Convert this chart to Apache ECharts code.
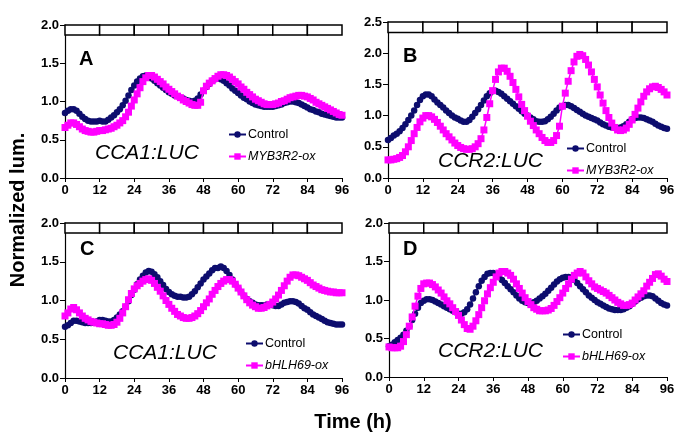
<!DOCTYPE html>
<html>
<head>
<meta charset="utf-8">
<script src="https://cdn.jsdelivr.net/npm/echarts@6/dist/echarts.min.js"></script>
<style>
html,body{margin:0;padding:0;background:#fff;}
#chart{width:685px;height:441px;}
</style>
</head>
<body>
<div id="chart"></div>
<script>
// Sampling times (h)
const hours = [];
for (let h = 0; h <= 96; h++) hours.push(h);
const xTicks = [0, 12, 24, 36, 48, 60, 72, 84, 96];
const lightBoxes = [[0,12],[12,24],[24,36],[36,48],[48,60],[60,72],[72,84],[84,96]];

// Panel A: CCA1:LUC, Control vs MYB3R2-ox
const ctrlA = [
0.85,0.88,0.90,0.90,0.88,0.84,0.80,0.77,0.75,0.74,0.74,0.74,
0.75,0.74,0.74,0.76,0.79,0.82,0.86,0.90,0.95,1.01,1.08,1.15,
1.21,1.26,1.30,1.33,1.34,1.33,1.30,1.27,1.24,1.21,1.18,1.15,
1.12,1.10,1.08,1.07,1.05,1.04,1.02,1.01,1.00,1.01,1.04,1.09,
1.14,1.19,1.23,1.27,1.29,1.30,1.29,1.27,1.24,1.21,1.17,1.14,
1.11,1.08,1.05,1.03,1.00,0.98,0.96,0.95,0.94,0.93,0.93,0.93,
0.93,0.94,0.95,0.96,0.98,0.99,1.00,1.00,0.99,0.98,0.96,0.94,
0.92,0.90,0.89,0.87,0.86,0.84,0.83,0.82,0.81,0.80,0.79,0.79,
0.79];
const oxA = [
0.66,0.69,0.72,0.72,0.70,0.67,0.64,0.62,0.61,0.60,0.60,0.61,
0.62,0.62,0.63,0.64,0.65,0.67,0.69,0.72,0.75,0.80,0.86,0.94,
1.02,1.10,1.18,1.26,1.31,1.34,1.34,1.32,1.29,1.26,1.23,1.19,
1.16,1.13,1.10,1.07,1.05,1.02,1.00,0.98,0.96,0.95,0.95,0.99,
1.14,1.20,1.24,1.27,1.30,1.33,1.35,1.35,1.34,1.32,1.29,1.26,
1.23,1.19,1.16,1.12,1.09,1.06,1.03,1.01,0.99,0.97,0.96,0.96,
0.96,0.97,0.98,1.00,1.01,1.03,1.05,1.06,1.07,1.08,1.08,1.07,
1.06,1.04,1.02,0.99,0.97,0.95,0.93,0.91,0.89,0.87,0.85,0.83,
0.82];

// Panel B: CCR2:LUC, Control vs MYB3R2-ox
const ctrlB = [
0.61,0.64,0.68,0.71,0.75,0.80,0.86,0.93,1.00,1.08,1.17,1.25,
1.31,1.34,1.34,1.31,1.26,1.21,1.17,1.13,1.08,1.04,1.00,0.97,
0.95,0.92,0.90,0.90,0.93,0.98,1.04,1.10,1.17,1.24,1.31,1.36,
1.39,1.40,1.38,1.35,1.31,1.27,1.23,1.19,1.15,1.11,1.07,1.03,
1.00,0.97,0.94,0.91,0.90,0.90,0.91,0.94,0.98,1.03,1.08,1.13,
1.15,1.17,1.17,1.15,1.12,1.09,1.06,1.03,1.00,0.98,0.96,0.94,
0.92,0.89,0.86,0.84,0.82,0.81,0.80,0.80,0.81,0.83,0.86,0.90,
0.94,0.96,0.97,0.97,0.96,0.94,0.92,0.90,0.87,0.84,0.82,0.80,
0.79];
const oxB = [
0.29,0.29,0.30,0.31,0.33,0.36,0.42,0.50,0.60,0.71,0.81,0.90,
0.96,1.00,1.00,0.98,0.94,0.89,0.83,0.77,0.71,0.66,0.61,0.56,
0.52,0.49,0.47,0.46,0.46,0.47,0.50,0.55,0.63,0.77,0.97,1.19,
1.40,1.58,1.70,1.76,1.76,1.71,1.63,1.53,1.42,1.30,1.18,1.08,
0.99,0.91,0.84,0.77,0.71,0.65,0.60,0.57,0.57,0.60,0.68,0.83,
1.15,1.36,1.55,1.72,1.86,1.95,1.98,1.96,1.90,1.81,1.70,1.58,
1.46,1.33,1.20,1.08,0.97,0.88,0.81,0.77,0.76,0.77,0.80,0.86,
0.93,1.02,1.12,1.22,1.31,1.38,1.43,1.46,1.47,1.45,1.42,1.38,
1.33];

// Panel C: CCA1:LUC, Control vs bHLH69-ox
const ctrlC = [
0.66,0.68,0.71,0.74,0.74,0.73,0.72,0.71,0.71,0.71,0.72,0.73,
0.75,0.75,0.74,0.73,0.73,0.75,0.78,0.82,0.86,0.92,0.99,1.07,
1.14,1.21,1.27,1.32,1.36,1.38,1.37,1.34,1.30,1.25,1.20,1.15,
1.11,1.08,1.06,1.05,1.05,1.04,1.04,1.05,1.08,1.12,1.17,1.22,
1.27,1.31,1.35,1.39,1.42,1.42,1.44,1.42,1.38,1.33,1.27,1.21,
1.16,1.11,1.06,1.02,0.99,0.97,0.95,0.94,0.94,0.94,0.95,0.95,
0.94,0.93,0.93,0.95,0.97,0.98,0.99,0.99,0.98,0.96,0.93,0.90,
0.88,0.85,0.82,0.80,0.78,0.76,0.74,0.72,0.71,0.70,0.69,0.69,
0.69];
const oxC = [
0.80,0.84,0.89,0.91,0.88,0.84,0.80,0.77,0.75,0.73,0.72,0.71,
0.70,0.70,0.69,0.68,0.68,0.69,0.72,0.77,0.84,0.92,1.01,1.09,
1.15,1.19,1.22,1.25,1.27,1.28,1.26,1.22,1.17,1.12,1.06,1.00,
0.95,0.90,0.86,0.82,0.80,0.78,0.77,0.77,0.78,0.80,0.83,0.87,
0.92,0.97,1.02,1.08,1.13,1.18,1.22,1.25,1.27,1.27,1.25,1.21,
1.16,1.11,1.06,1.01,0.97,0.94,0.92,0.90,0.90,0.91,0.93,0.95,
0.98,1.02,1.07,1.13,1.19,1.25,1.30,1.33,1.33,1.32,1.30,1.28,
1.26,1.23,1.20,1.18,1.16,1.14,1.13,1.12,1.11,1.11,1.10,1.10,
1.10];

// Panel D: CCR2:LUC, Control vs bHLH69-ox
const ctrlD = [
0.40,0.42,0.45,0.48,0.51,0.55,0.60,0.66,0.74,0.82,0.90,0.96,
0.99,1.01,1.01,1.00,0.98,0.96,0.94,0.92,0.90,0.88,0.86,0.84,
0.82,0.82,0.84,0.88,0.94,1.02,1.10,1.18,1.25,1.30,1.34,1.35,
1.35,1.33,1.30,1.26,1.22,1.18,1.14,1.10,1.06,1.02,0.99,0.97,
0.96,0.96,0.97,0.99,1.02,1.05,1.08,1.12,1.16,1.20,1.24,1.27,
1.29,1.30,1.30,1.29,1.26,1.22,1.18,1.14,1.10,1.06,1.03,1.00,
0.97,0.95,0.93,0.91,0.89,0.88,0.87,0.87,0.87,0.88,0.90,0.92,
0.95,0.98,1.01,1.03,1.05,1.06,1.06,1.05,1.02,0.99,0.96,0.94,
0.93];
const oxD = [
0.39,0.38,0.38,0.38,0.40,0.46,0.55,0.66,0.78,0.92,1.05,1.15,
1.21,1.22,1.22,1.20,1.17,1.13,1.09,1.04,0.99,0.95,0.90,0.85,
0.80,0.74,0.68,0.63,0.62,0.66,0.73,0.81,0.90,0.99,1.08,1.16,
1.23,1.30,1.35,1.37,1.37,1.35,1.32,1.27,1.21,1.15,1.09,1.03,
0.98,0.94,0.90,0.88,0.86,0.86,0.86,0.87,0.89,0.93,0.98,1.03,
1.09,1.15,1.21,1.27,1.32,1.35,1.37,1.35,1.30,1.25,1.21,1.17,
1.15,1.13,1.11,1.09,1.06,1.03,1.00,0.97,0.95,0.93,0.93,0.94,
0.96,1.00,1.04,1.08,1.12,1.18,1.23,1.28,1.33,1.34,1.31,1.27,
1.24];

const panelLetters = ['A', 'B', 'C', 'D'];
const geneLabels = ['CCA1:LUC', 'CCR2:LUC', 'CCA1:LUC', 'CCR2:LUC'];
const ctrlName = 'Control';
const oxNames = ['MYB3R2-ox', 'MYB3R2-ox', 'bHLH69-ox', 'bHLH69-ox'];
const yMaxes = [2.0, 2.5, 2.0, 2.0];
const boxLows = [1.87, 2.33, 1.87, 1.87];
const ctrlSets = [ctrlA, ctrlB, ctrlC, ctrlD];
const oxSets = [oxA, oxB, oxC, oxD];

const NAVY = '#0d0d6e';
const MAG = '#ff00ff';
const FONT = 'Liberation Sans, Arial, Helvetica, sans-serif';

const grids = [
  {left: 65, width: 277, top: 25, height: 153},
  {left: 388, width: 279, top: 22, height: 156},
  {left: 65, width: 277, top: 223, height: 155},
  {left: 389, width: 278, top: 223, height: 154}
];

const xAxes = grids.map((g, i) => ({
  type: 'value', gridIndex: i, min: 0, max: 96, interval: 12,
  axisLine: {lineStyle: {color: '#000', width: 1.2}},
  axisTick: {show: true, length: 4, lineStyle: {color: '#000'}},
  axisLabel: {color: '#000', fontWeight: 'bold', fontSize: 13, fontFamily: FONT, margin: 6},
  splitLine: {show: false}
}));
const yAxes = grids.map((g, i) => ({
  type: 'value', gridIndex: i, min: 0, max: yMaxes[i], interval: 0.5,
  axisLine: {show: true, lineStyle: {color: '#000', width: 1.2}},
  axisTick: {show: true, length: 5, lineStyle: {color: '#000'}},
  axisLabel: {color: '#000', fontWeight: 'bold', fontSize: 13, fontFamily: FONT, margin: 6,
    formatter: v => v.toFixed(1)},
  splitLine: {show: false}
}));

const series = [];
for (let i = 0; i < 4; i++) {
  series.push({
    type: 'line', name: ctrlName, xAxisIndex: i, yAxisIndex: i,
    data: hours.map((h, k) => [h, ctrlSets[i][k]]),
    symbol: 'circle', symbolSize: 6.5, showAllSymbol: true,
    lineStyle: {color: NAVY, width: 1.5}, itemStyle: {color: NAVY},
    z: 3, animation: false,
    markArea: {
      silent: true,
      itemStyle: {color: '#fff', borderColor: '#000', borderWidth: 1.5},
      data: lightBoxes.map(b => [{xAxis: b[0], yAxis: boxLows[i]}, {xAxis: b[1], yAxis: yMaxes[i]}])
    }
  });
  series.push({
    type: 'line', name: oxNames[i], xAxisIndex: i, yAxisIndex: i,
    data: hours.map((h, k) => [h, oxSets[i][k]]),
    symbol: 'rect', symbolSize: 7, showAllSymbol: true,
    lineStyle: {color: MAG, width: 1.5}, itemStyle: {color: MAG},
    z: 4, animation: false
  });
}

const legendPos = [
  {left: 228, top: 128},
  {left: 566, top: 142},
  {left: 245, top: 337},
  {left: 562, top: 328}
];
const legends = legendPos.map((p, i) => ({
  left: p.left, top: p.top, orient: 'vertical', itemGap: 9,
  itemWidth: 17, itemHeight: 8, padding: 0,
  data: [ctrlName, oxNames[i]],
  selectedMode: false,
  formatter: n => n === ctrlName ? n : '{i|' + n + '}',
  textStyle: {color: '#000', fontSize: 12.5, fontFamily: FONT, padding: [0, 0, 0, -3],
    rich: {i: {fontStyle: 'italic', fontSize: 12.5, fontFamily: FONT, color: '#000'}}}
}));

const letterPos = [[79, 60], [403, 57], [80, 250], [403, 250]];
const genePos = [[95, 155], [438, 163], [113, 355], [438, 353]];
const graphics = [];
for (let i = 0; i < 4; i++) {
  graphics.push({type: 'text', left: letterPos[i][0], top: letterPos[i][1] - 11,
    style: {text: panelLetters[i], font: 'bold 20px ' + FONT, fill: '#000'}});
  graphics.push({type: 'text', left: genePos[i][0], top: genePos[i][1] - 12,
    style: {text: geneLabels[i], font: 'italic 21px ' + FONT, fill: '#000'}});
}
graphics.push({type: 'text', x: 18, y: 210, rotation: Math.PI / 2,
  style: {text: 'Normalized lum.', font: 'bold 20px ' + FONT, fill: '#000', align: 'center', verticalAlign: 'middle'}});
graphics.push({type: 'text', x: 353, y: 422,
  style: {text: 'Time (h)', font: 'bold 20px ' + FONT, fill: '#000', align: 'center', verticalAlign: 'middle'}});

const chart = echarts.init(document.getElementById('chart'), null, {renderer: 'canvas'});
chart.setOption({
  backgroundColor: '#fff',
  animation: false,
  grid: grids,
  xAxis: xAxes,
  yAxis: yAxes,
  legend: legends,
  series: series,
  graphic: graphics
});
</script>
</body>
</html>
